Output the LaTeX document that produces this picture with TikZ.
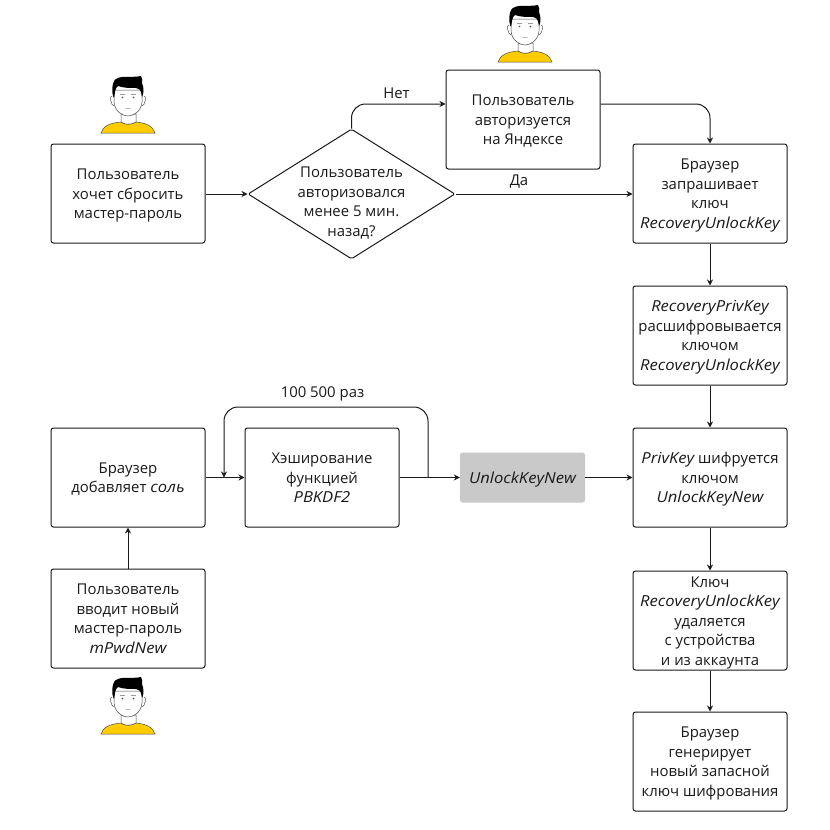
\documentclass[tikz,border=0pt]{standalone}
\usepackage{fontspec}
\setmainfont{Open Sans}
\usetikzlibrary{shapes.geometric,arrows.meta}
\definecolor{ink}{HTML}{1A1A1A}
\definecolor{shirt}{HTML}{FFCC00}
\definecolor{hair}{HTML}{000000}
\newcommand\ital[1]{{\fontsize{15.2}{19.5}\selectfont\itshape\addfontfeatures{FakeStretch=1.09}#1}}
\newcommand\stack[2][-5.2pt]{\raisebox{#1}[0pt][0pt]{\begin{tabular}{@{}c@{}}#2\end{tabular}}}
\tikzset{
  x=1pt,y=-1pt,
  every node/.style={font=\fontsize{14.9}{19.5}\selectfont,text=ink},
  box/.style={draw=ink,line width=1pt,rounded corners=2.5pt,minimum width=154pt,minimum height=99pt,inner sep=0pt},
  greybox/.style={fill=black!21,rounded corners=2.5pt,minimum width=125pt,minimum height=50pt,inner sep=0pt},
  decision/.style={draw=ink,line width=1pt,rounded corners=1.5pt,diamond,aspect=1.59,minimum width=207pt,minimum height=130pt,inner sep=0pt},
  link/.style={draw=ink,line width=1pt,-{Stealth[length=6pt,width=6pt]}},
  bentlink/.style={link,rounded corners=14pt},
  lbl/.style={inner sep=0pt},
  person/.pic={
    % shoulders
    \draw[fill=shirt,draw=black!70,line width=.5pt] (-27,57) .. controls (-25,50) and (-18,47) .. (-7,46) .. controls (-3,49) and (3,49) .. (8,46) .. controls (18,47) and (25,50) .. (27,57) -- cycle;
    % neck
    \draw[fill=white,draw=black!70,line width=.5pt] (-7,38) -- (-7,46) .. controls (-3,49) and (3,49) .. (8,46) -- (8,38) -- cycle;
    % ears
    \draw[fill=white,draw=black!70,line width=.5pt] (-16,20) .. controls (-19,19) and (-17,30) .. (-14,30);
    \draw[fill=white,draw=black!70,line width=.5pt] (16,20) .. controls (19,19) and (17,30) .. (14,30);
    % face
    \draw[fill=white,draw=black!70,line width=.5pt] (-14,14) -- (-14,26) .. controls (-13,36) and (-5,40) .. (0,40) .. controls (5,40) and (13,36) .. (14,26) -- (14,14) -- cycle;
    % hair
    \fill[hair] (-14,22) .. controls (-17,17) and (-16,5) .. (-12,3) .. controls (-6,-1) and (4,2) .. (13,0) .. controls (15,2) and (14,5) .. (14,7) .. controls (16,11) and (16,18) .. (14,21) .. controls (13,18) and (14,13) .. (8,12) .. controls (2,12) and (-5,12) .. (-10,10) .. controls (-13,12) and (-13,17) .. (-14,22) -- cycle;
    % eyes, nose, mouth
    \fill[black!70] (-5.5,21.5) circle (.9pt) (5.5,21.5) circle (.9pt);
    \draw[black!40,line width=.4pt] (-8,18.5) -- (-3,18.5) (3,18.5) -- (8,18.5);
    \draw[black!40,line width=.4pt] (-3,32) .. controls (-1,33) and (1,33) .. (3,32);
  }
}
\begin{document}
\begin{tikzpicture}
\useasboundingbox (0,0) rectangle (830,830);
\fill[white] (0,0) rectangle (830,830);

\node[box] (want) at (128,193.5) {\stack{Пользователь\\хочет сбросить\\мастер-пароль}};
\node[decision] (q) at (351.5,194) {\stack[-12.6pt]{Пользователь\\авторизовался\\менее 5 мин.\\назад?}};
\node[box] (auth) at (523,119.5) {\stack{Пользователь\\авторизуется\\на Яндексе}};
\node[box] (req) at (710,193.5) {\stack{Браузер\\запрашивает\\ключ\\\ital{RecoveryUnlockKey}}};
\node[box] (dec) at (710,335.5) {\stack{\ital{RecoveryPrivKey}\\расшифровывается\\ключом\\\ital{RecoveryUnlockKey}}};
\node[box] (enc) at (710,477.5) {\stack{\ital{PrivKey} шифруется\\ключом\\\ital{UnlockKeyNew}}};
\node[box] (del) at (710,620.5) {\stack{Ключ\\\ital{RecoveryUnlockKey}\\удаляется\\с устройства\\и из аккаунта}};
\node[box] (gen) at (710,761.5) {\stack{Браузер\\генерирует\\новый запасной\\ключ шифрования}};
\node[box] (salt) at (128,477.5) {\stack{Браузер\\добавляет \ital{соль}}};
\node[box] (hash) at (322,477.5) {\stack{Хэширование\\функцией\\\ital{PBKDF2}}};
\node[greybox] (key) at (522.5,477.5) {\stack{\ital{UnlockKeyNew}}};
\node[box] (input) at (128,618.5) {\stack{Пользователь\\вводит новый\\мастер-пароль\\\ital{mPwdNew}}};

\pic at (128,76) {person};
\pic at (525,5) {person};
\pic at (128,677) {person};

\node[lbl] (no) at (396.5,93.5) {Нет};
\node[lbl] (yes) at (519,182) {Да};
\node[lbl] (times) at (322.5,394) {100 500 раз};

\coordinate (looptopR) at (428,407);
\coordinate (looptopL) at (224,407);
\coordinate (loopstart) at (hash.east -| looptopR);
\coordinate (loopend) at (salt.east -| looptopL);

\draw[link] (want.east |- q.west) -- (q.west);
\draw[link] (q.east) -- (req.west |- q.east);
\draw[bentlink] (q.north) |- ([yshift=15.5pt]auth.west);
\draw[bentlink] ([yshift=15.5pt]auth.east) -| (req.north);
\draw[link] (req) -- (dec);
\draw[link] (dec) -- (enc);
\draw[link] (enc) -- (del);
\draw[link] (del) -- (gen);
\draw[link] (input) -- (salt);
\draw[link] (salt) -- (hash);
\draw[link] (hash) -- (key);
\draw[link] (key) -- (enc);
\draw[bentlink] (loopstart) -- (looptopR) -- (looptopL) -- (loopend);
\end{tikzpicture}
\end{document}
